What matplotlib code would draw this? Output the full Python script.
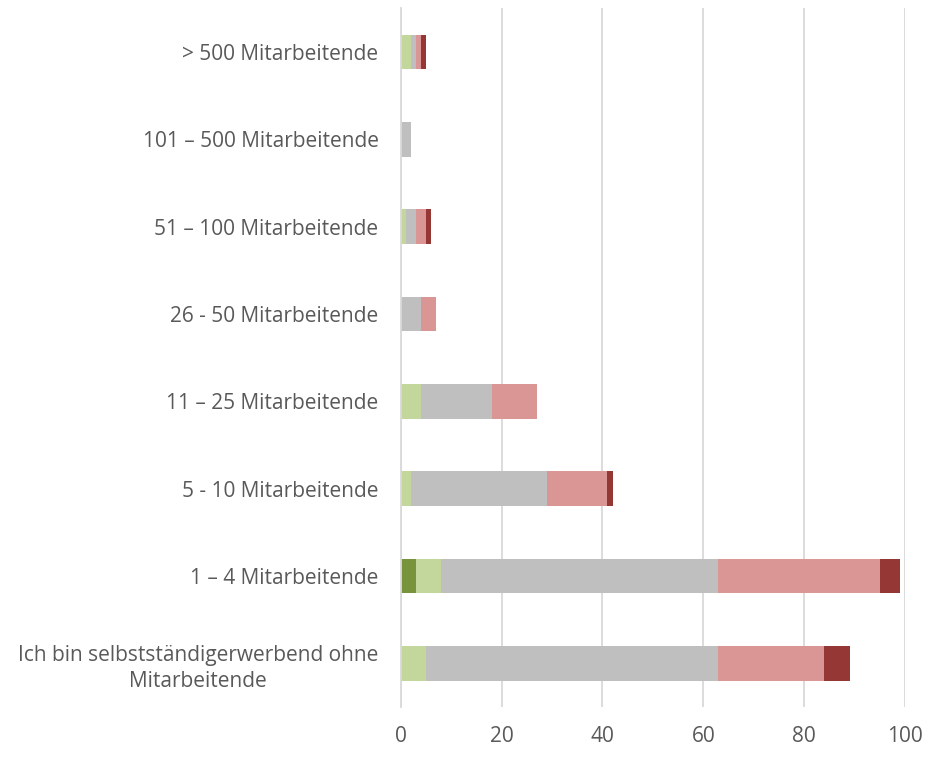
import numpy as np
import matplotlib
matplotlib.use("Agg")
from matplotlib import pyplot as plt

plt.rcParams['font.family'] = ['Open Sans', 'DejaVu Sans']

# categories from bottom to top
categories = [
    "Ich bin selbstständigerwerbend ohne\nMitarbeitende",
    "1 – 4 Mitarbeitende",
    "5 - 10 Mitarbeitende",
    "11 – 25 Mitarbeitende",
    "26 - 50 Mitarbeitende",
    "51 – 100 Mitarbeitende",
    "101 – 500 Mitarbeitende",
    "> 500 Mitarbeitende",
]

# series values (stacked left to right)
dark_green = [0, 3, 0, 0, 0, 0, 0, 0]
light_green = [5, 5, 2, 4, 0, 1, 0, 2]
gray = [58, 55, 27, 14, 4, 2, 2, 1]
pink = [21, 32, 12, 9, 3, 2, 0, 1]
dark_red = [5, 4, 1, 0, 0, 1, 0, 1]

series = [dark_green, light_green, gray, pink, dark_red]
colors = ["#77933C", "#C3D69B", "#BFBFBF", "#D99694", "#953735"]

fig = plt.figure(figsize=(9.32, 7.57), dpi=100)
ax = fig.add_axes([0.430, 0.066, 0.541, 0.923])

y = np.arange(len(categories))
left = np.zeros(len(categories))
for vals, col in zip(series, colors):
    ax.barh(y, vals, left=left, height=0.4, color=col, zorder=3)
    left += np.array(vals)

ax.set_xlim(0, 100)
ax.set_ylim(-0.5, len(categories) - 0.5)
ax.set_xticks(np.arange(0, 101, 20))
ax.set_yticks(y)
ax.set_yticklabels(categories, multialignment='center', linespacing=1.35)

ax.grid(axis='x', color='#D9D9D9', linewidth=1.3, zorder=0)
for s in ['top', 'right', 'bottom']:
    ax.spines[s].set_visible(False)
ax.spines['left'].set_color('#D9D9D9')
ax.spines['left'].set_linewidth(1.3)
ax.spines['left'].set_zorder(4)

ax.tick_params(axis='both', length=0, labelsize=15, labelcolor='#595959')
ax.tick_params(axis='y', pad=16)
ax.tick_params(axis='x', pad=14)

fig.savefig("out.png", dpi=100)
